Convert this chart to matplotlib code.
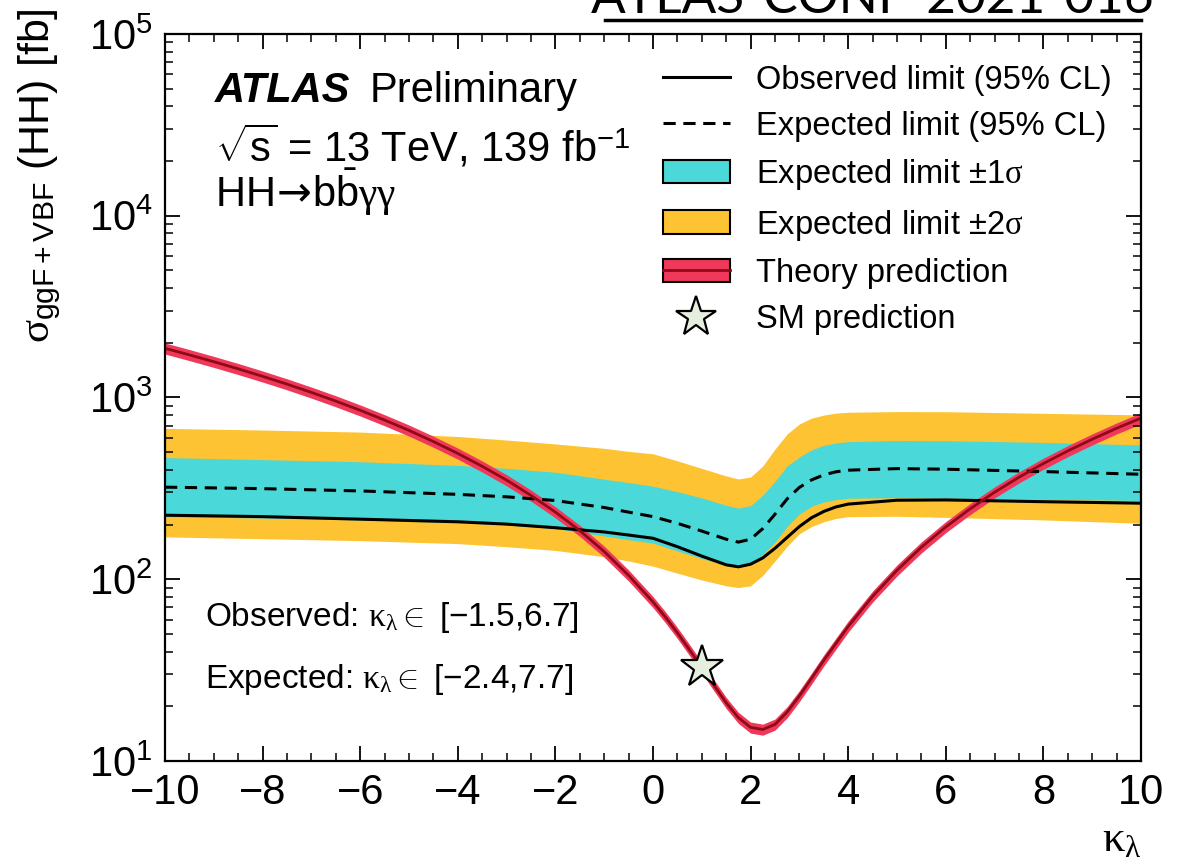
import matplotlib
matplotlib.use("Agg")
import matplotlib.pyplot as plt
import numpy as np
from matplotlib.patches import Patch
from matplotlib.lines import Line2D
from matplotlib.ticker import MultipleLocator, LogLocator, NullFormatter

plt.rcParams['font.family'] = ['Liberation Sans', 'DejaVu Sans']
plt.rcParams['mathtext.fontset'] = 'custom'
plt.rcParams['mathtext.rm'] = 'Liberation Sans'
plt.rcParams['mathtext.sf'] = 'Liberation Sans'
plt.rcParams['mathtext.it'] = 'Liberation Serif'
plt.rcParams['mathtext.bf'] = 'Liberation Sans:bold'
plt.rcParams['mathtext.tt'] = 'DejaVu Sans'
plt.rcParams['axes.unicode_minus'] = True

# theory cross-section vs kappa_lambda (fb)
kl_theory = [-10, -9.5, -9, -8.5, -8, -7.5, -7, -6.5, -6, -5.5, -5, -4.5, -4, -3.5, -3,
             -2.5, -2, -1.5, -1, -0.5, 0, 0.25, 0.5, 0.75, 1, 1.25, 1.5, 1.75, 2, 2.25,
             2.5, 2.75, 3, 3.25, 3.5, 4, 4.5, 5, 5.5, 6, 6.5, 7, 7.5, 8, 8.5, 9, 9.5, 10]
xs_theory = [1864, 1715, 1573, 1437, 1307, 1184, 1066, 955, 850, 751, 659, 572, 492, 418, 351,
             289, 234, 185, 142, 105, 75.0, 62.1, 50.7, 40.8, 32.7, 26.1, 20.9, 17.3, 15.3, 14.9,
             15.9, 18.6, 22.8, 28.5, 35.8, 55.0, 80.5, 112, 150, 194, 244, 301, 364, 433, 508, 589, 677, 770]
theory_rel_unc = 0.07

# expected / observed limits (fb)
kl_lim = [-10, -8, -6, -4, -3, -2, -1, -0.5, 0, 0.5, 1, 1.5, 1.75, 2, 2.25, 2.5, 2.75,
          3, 3.25, 3.5, 3.75, 4, 5, 6, 8, 10]
obs = [225, 221, 214, 207, 201, 192, 182, 175, 168, 151, 134, 120, 117, 121, 131, 148, 170,
       195, 218, 236, 250, 259, 272, 273, 267, 262]
exp = [321, 315, 306, 293, 284, 271, 248, 234, 221, 203, 184, 166, 160, 166, 190, 228, 277,
       320, 352, 375, 390, 398, 406, 403, 391, 378]
exp_p1 = [467, 455, 443, 423, 407, 388, 355, 340, 325, 303, 280, 255, 246, 254, 290, 345, 420,
          470, 515, 545, 562, 571, 580, 578, 566, 548]
exp_m1 = [221, 217, 212, 205, 199, 190, 173, 165, 158, 143, 130, 119, 117, 120, 137, 160, 195,
          228, 252, 266, 274, 279, 281, 279, 275, 271]
exp_p2 = [676, 662, 645, 610, 583, 555, 525, 505, 490, 448, 407, 370, 356, 365, 420, 520, 630,
          715, 770, 800, 820, 829, 836, 835, 818, 802]
exp_m2 = [171, 167, 163, 157, 151, 144, 133, 126, 118, 108, 99, 92, 90, 92, 105, 126, 152,
          178, 195, 207, 216, 221, 222, 219, 212, 203]

sm_kl = 1.0
sm_xs = 32.7

c_yellow = '#fdc332'
c_green = '#4ad8d8'
c_red = '#f0385a'
c_darkred = '#8e0a16'

fig = plt.figure(figsize=(11.95, 8.58), dpi=100)
ax = fig.add_axes([0.1381, 0.1131, 0.8167, 0.8473])

ax.fill_between(kl_lim, exp_m2, exp_p2, color=c_yellow, lw=0)
ax.fill_between(kl_lim, exp_m1, exp_p1, color=c_green, lw=0)
ax.plot(kl_lim, exp, color='black', ls=(0, (4, 2.5)), lw=2.2)
ax.plot(kl_lim, obs, color='black', lw=2.2)

th = np.array(xs_theory)
ax.fill_between(kl_theory, th * (1 - theory_rel_unc), th * (1 + theory_rel_unc), color=c_red, lw=0)
ax.plot(kl_theory, th, color=c_darkred, lw=2)

ax.plot([sm_kl], [sm_xs], marker='*', ms=32, mfc='#e6efdf', mec='black', mew=1.6, ls='none', zorder=5)

ax.set_xlim(-10, 10)
ax.set_yscale('log')
ax.set_ylim(10, 1e5)

ax.xaxis.set_major_locator(MultipleLocator(2))
ax.xaxis.set_minor_locator(MultipleLocator(0.5))
ax.yaxis.set_major_locator(LogLocator(base=10, numticks=10))
ax.yaxis.set_minor_locator(LogLocator(base=10, subs=np.arange(2, 10), numticks=20))
ax.yaxis.set_minor_formatter(NullFormatter())
ax.tick_params(which='both', direction='in', top=True, right=True, labelsize=30)
ax.tick_params(which='major', length=11, width=1.3, pad=9)
ax.tick_params(which='minor', length=6, width=1.1)
for s in ax.spines.values():
    s.set_linewidth(1.6)

ax.set_xlabel(r'$\kappa_\lambda$', fontsize=32, loc='right')
ax.set_ylabel(r'$\sigma_{\mathrm{ggF+VBF}}$ (HH) [fb]', fontsize=31, loc='top')
ax.yaxis.set_label_coords(-0.105, 1.035)

# experiment labels
ax.text(0.051, 0.906, 'ATLAS', transform=ax.transAxes, fontsize=30,
        fontweight='bold', fontstyle='italic')
ax.text(0.210, 0.906, 'Preliminary', transform=ax.transAxes, fontsize=30)
ax.text(0.051, 0.824, r'$\sqrt{\mathrm{s}}$ = 13 TeV, 139 fb$^{-1}$', transform=ax.transAxes, fontsize=30)
ax.text(0.051, 0.762, r'$\mathrm{HH}\!\mathtt{\rightarrow}\!\mathrm{b}\bar{\mathrm{b}}\gamma\gamma$',
        transform=ax.transAxes, fontsize=30)

ax.text(0.041, 0.185, r'Observed: $\kappa_\lambda \in$ [$-$1.5,6.7]', transform=ax.transAxes, fontsize=24)
ax.text(0.041, 0.100, r'Expected: $\kappa_\lambda \in$ [$-$2.4,7.7]', transform=ax.transAxes, fontsize=24)

handles = [
    Line2D([], [], color='black', lw=2.2),
    Line2D([], [], color='black', lw=2.2, ls=(0, (4, 2.5))),
    Patch(fc=c_green, ec='black', lw=1.5),
    Patch(fc=c_yellow, ec='black', lw=1.5),
    (Patch(fc=c_red, ec='black', lw=1.5), Line2D([], [], color=c_darkred, lw=2)),
    Line2D([], [], marker='*', ms=30, mfc='#e6efdf', mec='black', mew=1.6, ls='none'),
]
labels = ['Observed limit (95% CL)', 'Expected limit (95% CL)',
          r'Expected limit $\pm1\sigma$', r'Expected limit $\pm2\sigma$',
          'Theory prediction', 'SM prediction']
ax.legend(handles, labels, loc='upper left', bbox_to_anchor=(0.510, 0.958), frameon=False,
          fontsize=23.5, handlelength=2.05, handleheight=0.72, handletextpad=0.8,
          labelspacing=0.47, borderpad=0, borderaxespad=0)

# conference note reference, underlined at the top edge
fig.text(0.73, 0.985, 'ATLAS-CONF-2021-016', ha='center', va='baseline', fontsize=37, family='Lato')
fig.add_artist(Line2D([0.506, 0.955], [0.9765, 0.9765], transform=fig.transFigure, color='black', lw=2.5))

fig.savefig('out.png', dpi=100)
